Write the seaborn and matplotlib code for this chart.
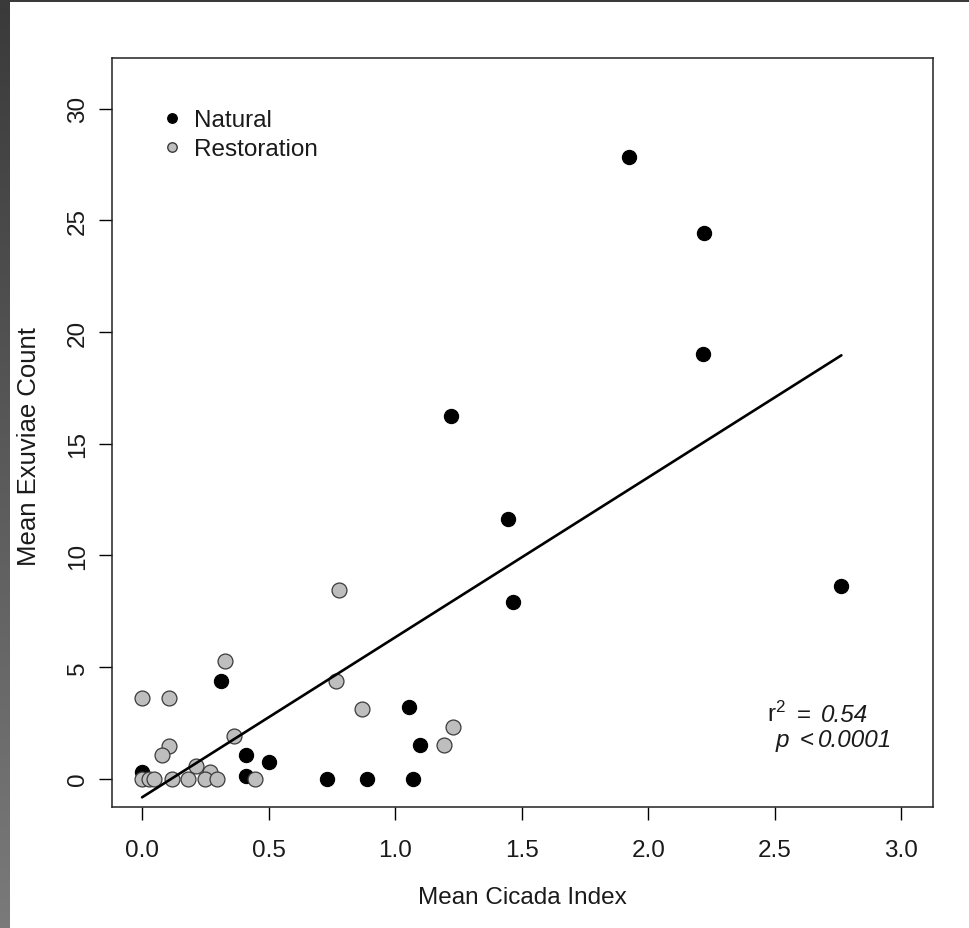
import numpy as np
import pandas as pd
import matplotlib
matplotlib.use("Agg")
import matplotlib.pyplot as plt
import seaborn as sns
from matplotlib.lines import Line2D

# ---- data ----
natural_x = [0.0, 0.31, 0.41, 0.41, 0.50, 0.73, 0.89, 1.055, 1.10, 1.07,
             1.22, 1.447, 1.465, 1.925, 2.22, 2.215, 2.763]
natural_y = [0.3, 4.37, 1.04, 0.12, 0.74, 0.0, 0.0, 3.22, 1.49, 0.0,
             16.25, 11.62, 7.9, 27.82, 24.42, 19.01, 8.62]
restoration_x = [0.0, 0.105, 0.326, 0.768, 0.868, 0.364, 0.105, 0.08, 0.212,
                 0.27, 1.229, 1.194, 0.0, 0.028, 0.047, 0.12, 0.18, 0.249,
                 0.298, 0.445, 0.779]
restoration_y = [3.63, 3.63, 5.27, 4.37, 3.1, 1.91, 1.46, 1.06, 0.56,
                 0.31, 2.31, 1.52, 0.0, 0.0, 0.0, 0.0, 0.0, 0.0,
                 0.0, 0.0, 8.44]
x_ticks = [0.0, 0.5, 1.0, 1.5, 2.0, 2.5, 3.0]
x_ticklabels = ["0.0", "0.5", "1.0", "1.5", "2.0", "2.5", "3.0"]
y_ticks = [0, 5, 10, 15, 20, 25, 30]
y_ticklabels = ["0", "5", "10", "15", "20", "25", "30"]
groups = ["Natural", "Restoration"]
r2_text = "0.54"
p_text = "0.0001"

df = pd.DataFrame({
    "x": natural_x + restoration_x,
    "y": natural_y + restoration_y,
    "group": [groups[0]] * len(natural_x) + [groups[1]] * len(restoration_x),
})

sns.set_theme(style="white")
plt.rcParams["font.family"] = ["Liberation Sans", "DejaVu Sans"]
plt.rcParams["mathtext.fontset"] = "custom"
plt.rcParams["mathtext.rm"] = "Liberation Sans"
plt.rcParams["mathtext.it"] = "Liberation Sans:italic"

W, H = 969, 929
fig = plt.figure(figsize=(W / 100, H / 100), dpi=100)
fig.patch.set_facecolor("white")

# screenshot frame (dark strips on left and top)
bax = fig.add_axes([0, 0, 10 / W, 1])
grad = np.linspace(0, 1, 256).reshape(-1, 1)
bax.imshow(grad, aspect="auto", cmap=matplotlib.colors.LinearSegmentedColormap.from_list(
    "g", ["#3a3a3a", "#7a7a7a"]), extent=[0, 1, 0, 1], origin="upper")
bax.set_axis_off()
tax = fig.add_axes([0, 1 - 3 / H, 1, 3 / H])
tax.set_facecolor("#3a3a3a")
tax.set_xticks([]); tax.set_yticks([])
for s in tax.spines.values():
    s.set_visible(False)

left, right, top, bottom = 111.7, 933, 59, 808
ax = fig.add_axes([left / W, 1 - bottom / H, (right - left) / W, (bottom - top) / H])
ax.set_facecolor("white")

nat = df[df["group"] == groups[0]]
res = df[df["group"] == groups[1]]
sns.scatterplot(data=nat, x="x", y="y", ax=ax, color="black", s=105,
                edgecolor="black", linewidth=0.8, legend=False, zorder=3)
sns.scatterplot(data=res, x="x", y="y", ax=ax, color="#bebebe", s=115,
                edgecolor="#3a3a3a", linewidth=0.9, legend=False, zorder=3)
sns.regplot(data=df, x="x", y="y", ax=ax, scatter=False, ci=None,
            line_kws={"color": "black", "linewidth": 1.9, "zorder": 4})

ax.set_xlim(-0.12, 3.125)
ax.set_ylim(-1.27, 32.27)
ax.set_xticks(x_ticks)
ax.set_xticklabels(x_ticklabels)
ax.set_yticks(y_ticks)
ax.set_yticklabels(y_ticklabels, rotation=90, va="center")
ax.tick_params(axis="both", direction="out", length=9.2, width=1.0,
               color="black", labelsize=17.5, labelcolor="#1a1a1a",
               bottom=True, left=True)
ax.tick_params(axis="x", pad=13.5)
ax.tick_params(axis="y", pad=7)
for s in ax.spines.values():
    s.set_color("#222222")
    s.set_linewidth(1.1)
    s.set_visible(True)
ax.grid(False)

ax.set_xlabel("Mean Cicada Index", fontsize=17.5, color="#1a1a1a", labelpad=18)
ax.set_ylabel("Mean Exuviae Count", fontsize=18.5, color="#1a1a1a")
ax.yaxis.set_label_coords((41 - left) / (right - left), 1 - (447 - top) / (bottom - top))

handles = [
    Line2D([], [], marker="o", linestyle="", markersize=6.8,
           markerfacecolor="black", markeredgecolor="black"),
    Line2D([], [], marker="o", linestyle="", markersize=6.8,
           markerfacecolor="#bebebe", markeredgecolor="#3a3a3a"),
]
leg = ax.legend(handles, groups, loc="upper left",
                bbox_to_anchor=((165 - left) / (right - left), 1 - (110 - top) / (bottom - top)),
                frameon=False, fontsize=17.5, borderpad=0, borderaxespad=0,
                handlelength=0.6, handletextpad=0.6, labelspacing=0.29)
for t in leg.get_texts():
    t.set_color("#1a1a1a")

# annotation (pieces: upright symbols, italic numbers)
tc = "#1a1a1a"
fs = 17.5
ax.text(2.468, 2.58, r"$\mathrm{r}^{2}$", fontsize=fs, ha="left", va="baseline", color=tc)
ax.text(2.588, 2.58, "=", fontsize=fs, ha="left", va="baseline", color=tc)
ax.text(2.683, 2.58, r2_text, fontsize=fs, ha="left", va="baseline", color=tc,
        fontstyle="italic")
ax.text(2.505, 1.46, "p", fontsize=fs, ha="left", va="baseline", color=tc,
        fontstyle="italic")
ax.text(2.598, 1.46, "<", fontsize=fs, ha="left", va="baseline", color=tc)
ax.text(2.671, 1.46, p_text, fontsize=fs, ha="left", va="baseline", color=tc,
        fontstyle="italic")

fig.savefig("out.png", dpi=100, facecolor="white")
